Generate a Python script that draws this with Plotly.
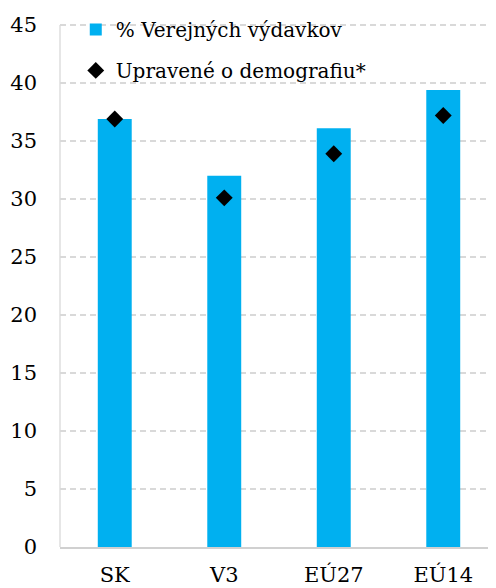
import plotly.graph_objects as go

categories = ["SK", "V3", "EÚ27", "EÚ14"]
spending_pct = [36.9, 32.0, 36.1, 39.4]
demography_adj = [36.9, 30.1, 33.9, 37.2]
y_ticks = [0, 5, 10, 15, 20, 25, 30, 35, 40, 45]
y_max_tick = 45

FONT = "DejaVu Serif"

fig = go.Figure()
fig.add_trace(go.Bar(
    x=categories, y=spending_pct, name="% Verejných výdavkov",
    marker=dict(color="#00B0F0", line=dict(width=0)),
    legendgroup="a",
))
fig.add_trace(go.Scatter(
    x=categories, y=demography_adj, name="Upravené o demografiu*",
    mode="markers",
    marker=dict(symbol="diamond", size=13, color="black"),
    legendgroup="b",
))

fig.add_shape(type="line", xref="paper", yref="y", x0=0, x1=0, y0=0, y1=y_max_tick,
              line=dict(color="#D9D9D9", width=1.3), layer="below")

fig.update_layout(
    width=496, height=588,
    margin=dict(l=52, r=6, t=1, b=49),
    paper_bgcolor="white", plot_bgcolor="white",
    font=dict(family=FONT, size=21, color="black"),
    bargap=0.69,
    showlegend=True,
    legend=dict(
        x=0.036, y=0.924, xanchor="left", yanchor="middle",
        bgcolor="rgba(255,255,255,0)",
        font=dict(family=FONT, size=20, color="black"),
        traceorder="grouped", tracegroupgap=12,
    ),
    xaxis=dict(
        showgrid=False, showline=True, linecolor="#D0D0D0", linewidth=1.5,
        ticks="outside", ticklen=8, tickcolor="rgba(0,0,0,0)",
        tickfont=dict(family=FONT, size=21, color="black"),
    ),
    yaxis=dict(
        range=[0, 46.38], tickvals=y_ticks, showgrid=True,
        gridcolor="#D9D9D9", griddash="6px,4px", gridwidth=2,
        showline=False, zeroline=False, ticklabelstandoff=22,
        tickfont=dict(family=FONT, size=21, color="black"),
    ),
)

fig.write_html("out.html")
